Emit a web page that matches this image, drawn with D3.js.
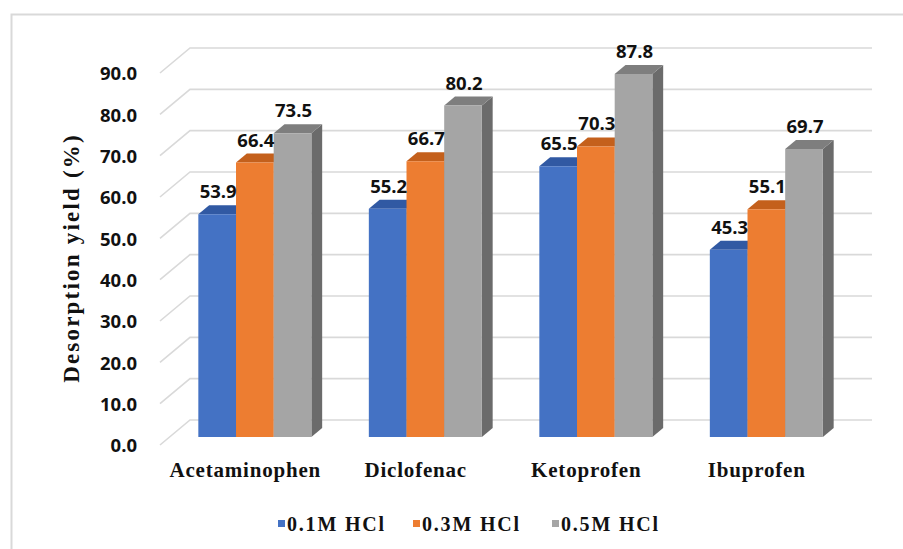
<!DOCTYPE html>
<html>
<head>
<meta charset="utf-8">
<script src="https://cdn.jsdelivr.net/npm/d3@7"></script>
<style>
  html, body { margin: 0; padding: 0; background: #fff; }
  svg { display: block; }
</style>
</head>
<body>
<svg id="chart" width="903" height="549"></svg>
<script>
// Desorption yield by drug and HCl concentration
const categories = ["Acetaminophen", "Diclofenac", "Ketoprofen", "Ibuprofen"];
const seriesNames = ["0.1M HCl", "0.3M HCl", "0.5M HCl"];
const hcl01 = [53.9, 55.2, 65.5, 45.3];
const hcl03 = [66.4, 66.7, 70.3, 55.1];
const hcl05 = [73.5, 80.2, 87.8, 69.7];
const yTicks = [0, 10, 20, 30, 40, 50, 60, 70, 80, 90];

const seriesValues = [hcl01, hcl03, hcl05];
const frontColors = ["#4472C4", "#ED7D31", "#A5A5A5"];
const topColors   = ["#3159A3", "#C4601C", "#7E7E7E"];
const sideColors  = ["#2C4F8F", "#AE5518", "#6B6B6B"];

const svg = d3.select("#chart");

// chart frame
svg.append("path")
  .attr("d", "M11.5,549 V14.5 H903")
  .attr("fill", "none").attr("stroke", "#d9d9d9").attr("stroke-width", 2);

// pseudo-3D geometry: front edge of the plot box and a depth vector
const x0 = 160, base0 = 445;
const depth = { dx: 30, dy: -25 };
const plotW = 682;

const y = d3.scaleLinear().domain([0, 90]).range([0, -372]);
const x = d3.scaleBand().domain(categories).range([0, plotW])
  .paddingInner(0.337).paddingOuter(0.1685);
const xs = d3.scaleBand().domain(seriesNames).range([0, x.bandwidth()]);

// point on plane at relative depth d (0 = front, 1 = back)
function pt(xx, v, d) {
  return [x0 + xx + depth.dx * d, base0 + y(v) + depth.dy * d];
}

// gridlines: side wall diagonal + back wall horizontal
const grid = svg.append("g");
yTicks.forEach(v => {
  const a = pt(0, v, 0), b = pt(0, v, 1), c = pt(plotW, v, 1);
  grid.append("path")
    .attr("d", `M${a[0]},${a[1]} L${b[0]},${b[1]} L${c[0]},${c[1]}`)
    .attr("fill", "none").attr("stroke", "#d9d9d9").attr("stroke-width", 1.6);
});

// y axis labels along the front edge
const yFront = d3.scaleLinear().domain([0, 90]).range([base0, base0 - 372]);
const yAxis = svg.append("g")
  .attr("transform", `translate(${x0},0)`)
  .call(d3.axisLeft(yFront).tickValues(yTicks).tickFormat(d3.format(".1f")).tickSize(0).tickPadding(23));
yAxis.select(".domain").remove();
yAxis.selectAll("text")
  .attr("font-family", "'Open Sans', sans-serif")
  .attr("font-weight", "bold").attr("font-size", 18.5)
  .attr("fill", "#111").attr("dy", "0.36em");

// y axis title
svg.append("text")
  .attr("transform", "translate(79,258) rotate(-90)")
  .attr("text-anchor", "middle")
  .attr("font-family", "'Liberation Serif', 'Times New Roman', serif")
  .attr("font-weight", "bold").attr("font-size", 23)
  .attr("letter-spacing", 2.2)
  .attr("fill", "#111")
  .text("Desorption yield (%)");

// bars
const dF = 0.32, dB = 0.68;
const bars = svg.append("g");
categories.forEach((cat, ci) => {
  seriesNames.forEach((s, si) => {
    const v = seriesValues[si][ci];
    const left = x(cat) + xs(s), right = left + xs.bandwidth();
    const fl0 = pt(left, 0, dF), fr0 = pt(right, 0, dF);
    const flv = pt(left, v, dF), frv = pt(right, v, dF);
    const blv = pt(left, v, dB), brv = pt(right, v, dB), br0 = pt(right, 0, dB);
    const poly = p => "M" + p.map(q => q.join(",")).join("L") + "Z";
    const g = bars.append("g");
    g.append("path").attr("d", poly([fr0, frv, brv, br0])).attr("fill", sideColors[si]);
    g.append("path").attr("d", poly([flv, frv, brv, blv])).attr("fill", topColors[si]);
    g.append("path").attr("d", poly([fl0, fr0, frv, flv])).attr("fill", frontColors[si]);
  });
});

// value labels
const labels = svg.append("g");
categories.forEach((cat, ci) => {
  seriesNames.forEach((s, si) => {
    const v = seriesValues[si][ci];
    const cx = x(cat) + xs(s) + xs.bandwidth() / 2;
    const p = pt(cx, v, dF);
    labels.append("text")
      .attr("x", p[0] + 1).attr("y", p[1] - 16)
      .attr("text-anchor", "middle")
      .attr("font-family", "'Open Sans', sans-serif")
      .attr("font-weight", "bold").attr("font-size", 18.5)
      .attr("fill", "#111")
      .text(d3.format(".1f")(v));
  });
});

// category labels
categories.forEach(cat => {
  svg.append("text")
    .attr("x", x0 + x(cat) + x.bandwidth() / 2)
    .attr("y", 477)
    .attr("text-anchor", "middle")
    .attr("font-family", "'Liberation Serif', 'Times New Roman', serif")
    .attr("font-weight", "bold").attr("font-size", 21)
    .attr("letter-spacing", 0.8)
    .attr("fill", "#111")
    .text(cat);
});

// legend
const legendX = [278, 413, 552];
seriesNames.forEach((s, si) => {
  const g = svg.append("g").attr("transform", `translate(${legendX[si]},0)`);
  g.append("rect").attr("x", 0).attr("y", 520).attr("width", 7).attr("height", 7)
    .attr("fill", frontColors[si]);
  g.append("text").attr("x", 9).attr("y", 531)
    .attr("font-family", "'Liberation Serif', 'Times New Roman', serif")
    .attr("font-weight", "bold").attr("font-size", 20)
    .attr("letter-spacing", 1.8)
    .attr("fill", "#111")
    .text(s);
});
</script>
</body>
</html>
